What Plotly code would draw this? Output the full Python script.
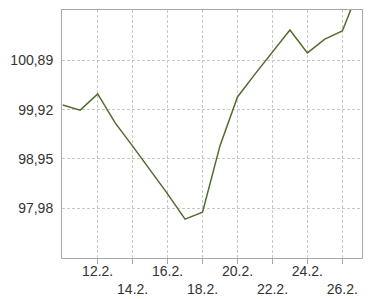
import plotly.graph_objects as go

dates = ["2024-02-%02d" % d for d in range(10, 28)]
values = [100.01, 99.91, 100.23, 99.66, 99.20, 98.73, 98.26, 97.76, 97.90,
          99.21, 100.17, 100.62, 101.05, 101.49, 101.04, 101.31, 101.47, 102.34]

x_tick_vals = ["2024-02-12", "2024-02-14", "2024-02-16", "2024-02-18",
               "2024-02-20", "2024-02-22", "2024-02-24", "2024-02-26"]
x_tick_text = ["12.2.", "<br>14.2.", "16.2.", "<br>18.2.",
               "20.2.", "<br>22.2.", "24.2.", "<br>26.2."]
y_tick_vals = [97.98, 98.95, 99.92, 100.89]
y_tick_text = ["97,98", "98,95", "99,92", "100,89"]

fig = go.Figure(go.Scatter(x=dates, y=values, mode="lines",
                           line=dict(color="#556B2F", width=1.5)))

font = dict(family="Liberation Sans, Arial, sans-serif", size=14, color="#333333")
fig.update_layout(
    width=371, height=299, margin=dict(l=62, r=9, t=10, b=41),
    paper_bgcolor="white", plot_bgcolor="white", showlegend=False,
    font=font,
)
fig.update_xaxes(
    type="date", range=["2024-02-09 23:00", "2024-02-27 03:00"],
    tickmode="array", tickvals=x_tick_vals, ticktext=x_tick_text,
    showgrid=True, gridcolor="#c8c8c8", griddash="3px,2px", gridwidth=1,
    showline=True, linecolor="#a8a8a8", linewidth=1, mirror=True,
    ticks="", zeroline=False,
    minor=dict(tickmode="array", tickvals=x_tick_vals, ticks="outside",
               ticklen=5, tickcolor="#a8a8a8", showgrid=False),
    tickfont=font, automargin=False,
)
fig.update_yaxes(
    range=[96.995, 101.885],
    tickmode="array", tickvals=y_tick_vals, ticktext=y_tick_text,
    showgrid=True, gridcolor="#c8c8c8", griddash="3px,2px", gridwidth=1,
    showline=True, linecolor="#a8a8a8", linewidth=1, mirror=True,
    ticks="", zeroline=False, ticklabelstandoff=5,
    tickfont=font, automargin=False,
)
fig.write_html("out.html")
